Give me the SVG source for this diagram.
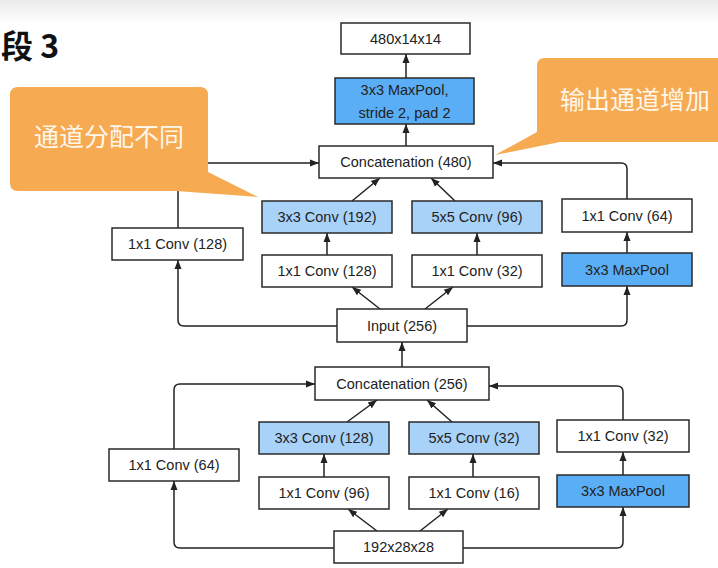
<svg xmlns="http://www.w3.org/2000/svg" width="718" height="568" viewBox="0 0 718 568">
<style>
.b{fill:#fff;stroke:#2a2a2a;stroke-width:1.5}
.lb{fill:#a9d2f8;stroke:#2a2a2a;stroke-width:1.5}
.db{fill:#5aaef5;stroke:#2a2a2a;stroke-width:1.5}
.t{font-family:"Liberation Sans",Arial,sans-serif;font-size:14.5px;fill:#222;text-anchor:middle;dominant-baseline:central}
.c{fill:none;stroke:#222;stroke-width:1.5}
.co{fill:#f6aa52}
.ct{font-family:"Noto Sans CJK SC",sans-serif;font-size:25px;fill:#fff6ea;text-anchor:middle}
</style>
<defs>
<marker id="ah" markerWidth="10" markerHeight="10" refX="9" refY="5" orient="auto" markerUnits="userSpaceOnUse">
<path d="M0,1.5 L9,5 L0,8.5 Z" fill="#222"/>
</marker>
<linearGradient id="top" x1="0" y1="0" x2="0" y2="1">
<stop offset="0" stop-color="#ebebeb"/>
<stop offset="1" stop-color="#ffffff"/>
</linearGradient>
</defs>
<rect x="0" y="0" width="718" height="568" fill="#fff"/>
<rect x="0" y="0" width="718" height="24" fill="url(#top)"/>
<text x="1" y="58" font-family="Noto Sans CJK SC,sans-serif" font-size="32" font-weight="bold" fill="#111">段 3</text>

<g id="connectors">
<line class="c" x1="406" y1="146" x2="406" y2="124" marker-end="url(#ah)"/>
<line class="c" x1="406" y1="78" x2="406" y2="54" marker-end="url(#ah)"/>
<path class="c" d="M337,326 H184 Q178,326 178,320 V260" marker-end="url(#ah)"/>
<path class="c" d="M178,228 V169 Q178,163 184,163 H319" marker-end="url(#ah)"/>
<line class="c" x1="380" y1="309" x2="352" y2="287" marker-end="url(#ah)"/>
<line class="c" x1="425" y1="309" x2="453" y2="287" marker-end="url(#ah)"/>
<line class="c" x1="327" y1="255" x2="327" y2="233" marker-end="url(#ah)"/>
<line class="c" x1="477" y1="255" x2="477" y2="233" marker-end="url(#ah)"/>
<line class="c" x1="352" y1="201" x2="380" y2="178" marker-end="url(#ah)"/>
<line class="c" x1="455" y1="201" x2="431" y2="178" marker-end="url(#ah)"/>
<path class="c" d="M467,326 H621 Q627,326 627,320 V286" marker-end="url(#ah)"/>
<line class="c" x1="627" y1="253" x2="627" y2="232" marker-end="url(#ah)"/>
<path class="c" d="M627,199 V169 Q627,163 621,163 H493" marker-end="url(#ah)"/>
<line class="c" x1="402" y1="367" x2="402" y2="342" marker-end="url(#ah)"/>
<path class="c" d="M334,548 H180 Q174,548 174,542 V481" marker-end="url(#ah)"/>
<path class="c" d="M174,449 V390 Q174,384 180,384 H315" marker-end="url(#ah)"/>
<line class="c" x1="377" y1="531" x2="348" y2="509" marker-end="url(#ah)"/>
<line class="c" x1="420" y1="531" x2="448" y2="509" marker-end="url(#ah)"/>
<line class="c" x1="324" y1="477" x2="324" y2="454" marker-end="url(#ah)"/>
<line class="c" x1="473" y1="477" x2="473" y2="454" marker-end="url(#ah)"/>
<line class="c" x1="347" y1="422" x2="377" y2="400" marker-end="url(#ah)"/>
<line class="c" x1="452" y1="422" x2="427" y2="400" marker-end="url(#ah)"/>
<path class="c" d="M463,548 H617 Q623,548 623,542 V507" marker-end="url(#ah)"/>
<line class="c" x1="623" y1="475" x2="623" y2="452" marker-end="url(#ah)"/>
<path class="c" d="M623,420 V392 Q623,386 617,386 H489" marker-end="url(#ah)"/>
</g>

<g id="out"><rect class="b" x="341" y="23" width="129" height="31"/><text class="t" x="405.5" y="39">480x14x14</text></g>
<g id="maxpool-s2"><rect class="db" x="335" y="78" width="139" height="46"/><text class="t" x="404.5" y="90">3x3 MaxPool,</text><text class="t" x="404.5" y="113">stride 2, pad 2</text></g>
<g id="concat480"><rect class="b" x="319" y="146" width="174" height="32"/><text class="t" x="406" y="162">Concatenation (480)</text></g>
<g id="conv3-192"><rect class="lb" x="262" y="201" width="130" height="32"/><text class="t" x="327" y="217">3x3 Conv (192)</text></g>
<g id="conv1-128b"><rect class="b" x="262" y="255" width="130" height="32"/><text class="t" x="327" y="271">1x1 Conv (128)</text></g>
<g id="conv1-128a"><rect class="b" x="112" y="228" width="131" height="32"/><text class="t" x="177.5" y="244">1x1 Conv (128)</text></g>
<g id="conv5-96"><rect class="lb" x="412" y="201" width="130" height="32"/><text class="t" x="477" y="217">5x5 Conv (96)</text></g>
<g id="conv1-32b"><rect class="b" x="412" y="255" width="130" height="32"/><text class="t" x="477" y="271">1x1 Conv (32)</text></g>
<g id="conv1-64b"><rect class="b" x="562" y="199" width="130" height="33"/><text class="t" x="627" y="215.5">1x1 Conv (64)</text></g>
<g id="maxpool-b"><rect class="db" x="562" y="253" width="130" height="33"/><text class="t" x="627" y="269.5">3x3 MaxPool</text></g>
<g id="input256"><rect class="b" x="337" y="309" width="130" height="33"/><text class="t" x="402" y="325.5">Input (256)</text></g>

<g id="concat256"><rect class="b" x="315" y="367" width="174" height="33"/><text class="t" x="402" y="383.5">Concatenation (256)</text></g>
<g id="conv1-64a"><rect class="b" x="109" y="449" width="130" height="32"/><text class="t" x="174" y="465">1x1 Conv (64)</text></g>
<g id="conv3-128"><rect class="lb" x="259" y="422" width="130" height="32"/><text class="t" x="324" y="438">3x3 Conv (128)</text></g>
<g id="conv1-96"><rect class="b" x="259" y="477" width="130" height="32"/><text class="t" x="324" y="493">1x1 Conv (96)</text></g>
<g id="conv5-32"><rect class="lb" x="409" y="422" width="130" height="32"/><text class="t" x="474" y="438">5x5 Conv (32)</text></g>
<g id="conv1-16"><rect class="b" x="409" y="477" width="130" height="32"/><text class="t" x="474" y="493">1x1 Conv (16)</text></g>
<g id="conv1-32a"><rect class="b" x="557" y="420" width="132" height="32"/><text class="t" x="623" y="436">1x1 Conv (32)</text></g>
<g id="maxpool-a"><rect class="db" x="557" y="475" width="132" height="32"/><text class="t" x="623" y="491">3x3 MaxPool</text></g>
<g id="in192"><rect class="b" x="334" y="531" width="129" height="32"/><text class="t" x="398.5" y="547">192x28x28</text></g>

<g id="callout-left">
<path class="co" d="M18,87 H200 Q208,87 208,95 V172 L258,197 L176,191 H18 Q10,191 10,183 V95 Q10,87 18,87 Z"/>
<text class="ct" x="109" y="146">通道分配不同</text>
</g>
<g id="callout-right">
<path class="co" d="M545,58 H730 V142 H560 L495,155 L537,132 V66 Q537,58 545,58 Z"/>
<text class="ct" x="635" y="109">输出通道增加</text>
</g>
</svg>
